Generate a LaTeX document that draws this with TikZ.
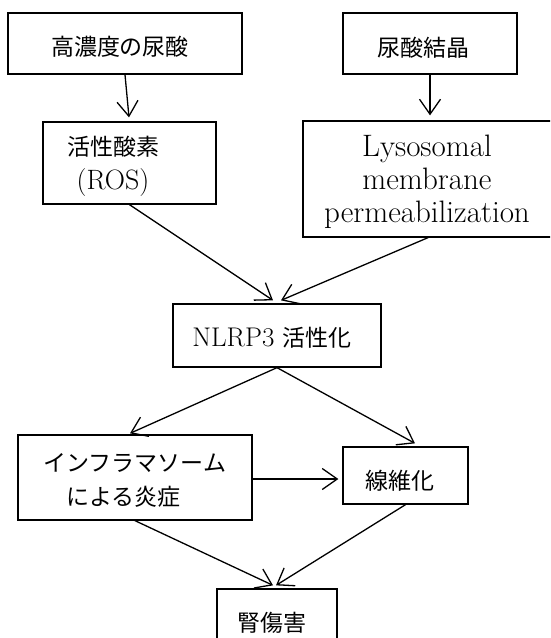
\documentclass[tikz,border=0pt]{standalone}
\usepackage{fontspec}
\newfontfamily\jp{Noto Sans CJK JP}
\usetikzlibrary{arrows.meta,calc}
\begin{document}
\begin{tikzpicture}[x=1pt,y=-1pt,
  box/.style={draw, line width=1.3pt, inner sep=0pt},
  lbl/.style={inner sep=0pt, align=center},
  jpf/.style={font=\jp\fontsize{23}{34}\selectfont},
  lmf/.style={font=\fontsize{27}{33}\selectfont},
  lmd/.style={font=\fontsize{31}{33}\selectfont},
  arr/.style={line width=1.3pt, -{Straight Barb[length=15pt,width=21pt,line width=1.3pt]}}]
\clip (0,0) rectangle (550,638);
\fill[white] (0,0) rectangle (550,638);
% boxes
\node[box, minimum width=234pt, minimum height=61pt] (a) at (125,43.5) {};
\node[box, minimum width=174pt, minimum height=61pt] (b) at (430,43.5) {};
\node[box, minimum width=173pt, minimum height=82pt] (c) at (129.5,163) {};
\node[box, minimum width=250pt, minimum height=116pt] (d) at (428,179) {};
\node[box, minimum width=208pt, minimum height=63pt] (e) at (277,335.5) {};
\node[box, minimum width=234pt, minimum height=85pt] (f) at (135,477.5) {};
\node[box, minimum width=125pt, minimum height=57pt] (g) at (405.5,475.5) {};
\node[box, minimum width=120pt, minimum height=67pt] (h) at (277,622.5) {};
% labels
\node[lbl, jpf] (at) at (120,47) {高濃度の尿酸};
\node[lbl, jpf] (bt) at (423.5,47.5) {尿酸結晶};
\node[lbl, jpf] (ct) at (113,166) {活性酸素\\{\rmfamily\fontsize{28}{34}\selectfont (ROS)}};
\node[lbl, lmd] (dt) at (427,182) {Lysosomal\\membrane\\permeabilization};
\node[lbl, lmf] (et) at (272,338) {NLRP3 {\jp\fontsize{23}{34}\selectfont 活性化}};
\node[lbl, jpf] (ft) at (135,480) {インフラマソーム\\による炎症\hspace*{1em}};
\node[lbl, jpf] (gt) at (399.5,481) {線維化};
\node[lbl, jpf] (ht) at (272,622.5) {腎傷害};
% connectors
\draw[arr] (a.south) -- ($(c.north)+(-0.5,-4)$);
\draw[arr] (b.south) -- ($(b.south |- d.north)+(0,-5)$);
\draw[arr] (c.south) -- ($(e.north)+(-4,-3)$);
\draw[arr] (d.south) -- ($(e.north)+(4,-3)$);
\draw[arr] (e.south) -- ($(f.north)+(-5,-1)$);
\draw[arr] (e.south) -- ($(g.north)+(9.5,-3)$);
\draw[arr] ($(f.east)+(0,1.5)$) -- ($(g.west)+(-4,3.5)$);
\draw[arr] (f.south) -- ($(h.north)+(-4,-3)$);
\draw[arr] (g.south) -- ($(h.north)+(-1,-3)$);
\end{tikzpicture}
\end{document}
